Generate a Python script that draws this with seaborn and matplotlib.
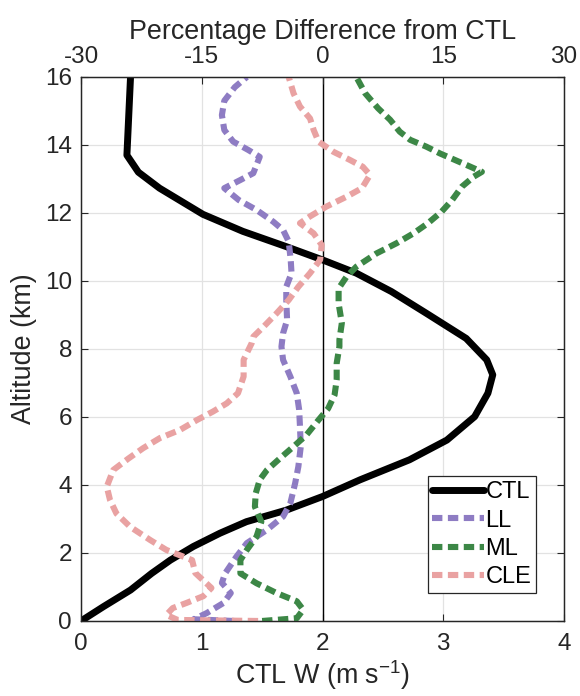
import numpy as np
import pandas as pd
import matplotlib
matplotlib.use("Agg")
import matplotlib.pyplot as plt
from matplotlib.lines import Line2D
import seaborn as sns

# CTL vertical velocity profile (bottom axis, m/s)
ctl_alt = [0.0, 0.42, 0.91, 1.40, 1.79, 2.19, 2.58, 2.92, 3.26, 3.66, 4.15, 4.74,
           5.32, 6.01, 6.70, 7.24, 7.68, 8.31, 9.05, 9.69, 10.23, 10.62, 11.01,
           11.46, 11.96, 12.73, 13.20, 13.70, 16.0]
ctl_w = [0.0, 0.185, 0.41, 0.585, 0.74, 0.93, 1.15, 1.37, 1.70, 2.0, 2.31, 2.72,
         3.03, 3.26, 3.37, 3.41, 3.36, 3.19, 2.86, 2.57, 2.28, 2.0, 1.70,
         1.34, 1.01, 0.65, 0.475, 0.38, 0.41]

# percentage differences from CTL (top axis)
ll_alt = [0.0, 0.05, 0.23, 0.53, 0.82, 1.12, 1.40, 1.89, 2.29, 2.68, 3.07, 3.46,
          4.05, 4.54, 5.13, 5.72, 6.21, 6.70, 7.19, 7.68, 8.07, 8.46, 8.85, 9.44,
          9.83, 10.23, 10.62, 11.16, 11.50, 11.74, 12.09, 12.38, 12.73, 12.97,
          13.17, 13.65, 13.85, 14.10, 14.44, 14.88, 15.30, 15.70, 16.0]
ll_pct = [-11.0, -16.0, -14.4, -12.3, -11.4, -12.5, -12.1, -10.7, -9.4, -6.9, -4.9, -4.0,
          -3.4, -3.0, -2.7, -2.8, -2.9, -3.2, -4.0, -4.9, -5.1, -4.9, -4.4, -4.5,
          -4.5, -3.85, -3.95, -4.2, -4.9, -6.1, -8.2, -10.4, -12.2, -10.2,
          -8.6, -7.8, -9.2, -11.1, -12.2, -12.5, -12.2, -10.9, -9.4]

ml_alt = [0.0, 0.08, 0.33, 0.58, 0.82, 1.11, 1.40, 1.79, 2.09, 2.48, 2.92, 3.36,
          3.75, 4.15, 4.44, 4.78, 5.13, 5.47, 5.91, 6.25, 6.65, 7.09, 7.58, 8.07,
          8.27, 8.76, 9.34, 9.78, 10.13, 10.42, 10.81, 11.11, 11.40, 11.70, 12.04,
          12.38, 12.77, 13.07, 13.21, 13.41, 13.75, 13.95, 14.15, 14.39, 14.74,
          15.08, 15.52, 16.0]
ml_pct = [-7.5, -3.2, -2.4, -3.2, -5.7, -8.2, -10.2, -10.2, -9.4, -8.2, -7.6, -8.4,
          -8.3, -7.8, -6.9, -5.3, -3.6, -2.0, -0.5, 0.7, 1.5, 1.76, 1.76, 2.1,
          2.1, 2.4, 2.0, 2.0, 3.0, 4.2, 6.7, 9.2, 11.3, 13.1, 14.8,
          16.1, 17.3, 18.8, 19.8, 17.9, 14.6, 12.9, 10.9, 9.6, 8.4,
          6.9, 5.3, 4.2]

cle_alt = [0.0, 0.03, 0.18, 0.38, 0.53, 0.73, 0.97, 1.41, 1.79, 2.09, 2.38, 2.77,
           3.16, 3.56, 3.95, 4.44, 4.78, 5.08, 5.38, 5.62, 5.91, 6.16, 6.40, 6.70,
           7.19, 7.68, 8.17, 8.36, 8.66, 9.05, 9.44, 9.83, 10.23, 10.62, 11.06,
           11.40, 11.70, 11.90, 12.19, 12.48, 12.73, 13.12, 13.36, 13.56, 13.80,
           14.10, 14.44, 14.78, 15.13, 15.52, 16.0]
cle_pct = [-8.0, -18.0, -19.4, -18.6, -16.9, -14.8, -13.8, -15.8, -16.2, -19.4, -21.4, -23.9,
           -25.6, -26.4, -26.8, -26.0, -24.1, -22.3, -20.2, -17.7, -15.6, -13.6, -11.9, -10.5,
           -9.8, -9.8, -8.8, -8.6, -7.3, -5.7, -4.2, -3.0, -1.55, -0.3, -0.1,
           -1.1, -2.8, -1.55, 0.5, 3.0, 4.9, 5.9, 5.0, 3.4, 1.35,
           -0.5, -1.1, -1.55, -2.8, -3.6, -4.2]

sns.set_theme(style="ticks")
plt.rcParams["font.family"] = ["Liberation Sans", "DejaVu Sans"]
plt.rcParams["mathtext.fontset"] = "custom"
plt.rcParams["mathtext.rm"] = "Liberation Sans"
plt.rcParams["axes.unicode_minus"] = False

TXT = "#262626"
fig = plt.figure(figsize=(5.8, 6.96), dpi=100)
ax = fig.add_axes([0.1397, 0.1078, 0.8327, 0.7816])
ax2 = ax.twiny()

dash = (0, (1.7, 0.9))
sns.lineplot(x=ctl_w, y=ctl_alt, sort=False, estimator=None, orient="y",
             color="black", linewidth=5, ax=ax)
ax.axvline(2, color="black", linewidth=1, zorder=1)

series = [("LL", ll_pct, ll_alt, "#8e7cc3"),
          ("ML", ml_pct, ml_alt, "#3c8746"),
          ("CLE", cle_pct, cle_alt, "#e9a2a2")]
for name, pct, alt, col in series:
    sns.lineplot(x=pct, y=alt, sort=False, estimator=None, orient="y",
                 color=col, linewidth=4.4, linestyle=dash, ax=ax2, label=name)

ax.set_xlim(0, 4)
ax.set_ylim(0, 16)
ax2.set_xlim(-30, 30)
ax.set_xticks([0, 1, 2, 3, 4])
ax.set_yticks(np.arange(0, 17, 2))
ax2.set_xticks([-30, -15, 0, 15, 30])
ax.grid(True, color="#e2e2e2", linewidth=0.9)
ax.set_axisbelow(True)

for a in (ax, ax2):
    a.tick_params(direction="in", length=5, width=0.8, labelsize=17.5, colors=TXT)
    for s in a.spines.values():
        s.set_color(TXT)
        s.set_linewidth(0.9)
ax.tick_params(right=True)
ax.tick_params(axis="x", pad=9)
ax.tick_params(axis="y", pad=6.5)
ax2.tick_params(axis="x", pad=6.3)

ax.set_xlabel("CTL W (m s$^{-1}$)", fontsize=19.4, color=TXT, labelpad=2)
ax.set_ylabel("Altitude (km)", fontsize=19.4, color=TXT, labelpad=6)
ax2.set_xlabel("Percentage Difference from CTL", fontsize=19.4, color=TXT, labelpad=5)

# legend combining both axes
handles = [Line2D([], [], color="black", linewidth=5)]
labels = ["CTL"]
h2, l2 = ax2.get_legend_handles_labels()
leg = ax2.legend(handles + h2, labels + l2, loc="lower right",
                 fontsize=17, frameon=True, fancybox=False, edgecolor=TXT,
                 handlelength=2.2, handletextpad=0.05, labelspacing=0.27,
                 borderpad=0.2, borderaxespad=0, framealpha=1)
leg.set_bbox_to_anchor((536 / 580, 1 - 593 / 696), transform=fig.transFigure)
leg.get_frame().set_linewidth(0.9)
for t in leg.get_texts():
    t.set_color("black")

fig.savefig("out.png", dpi=100)
